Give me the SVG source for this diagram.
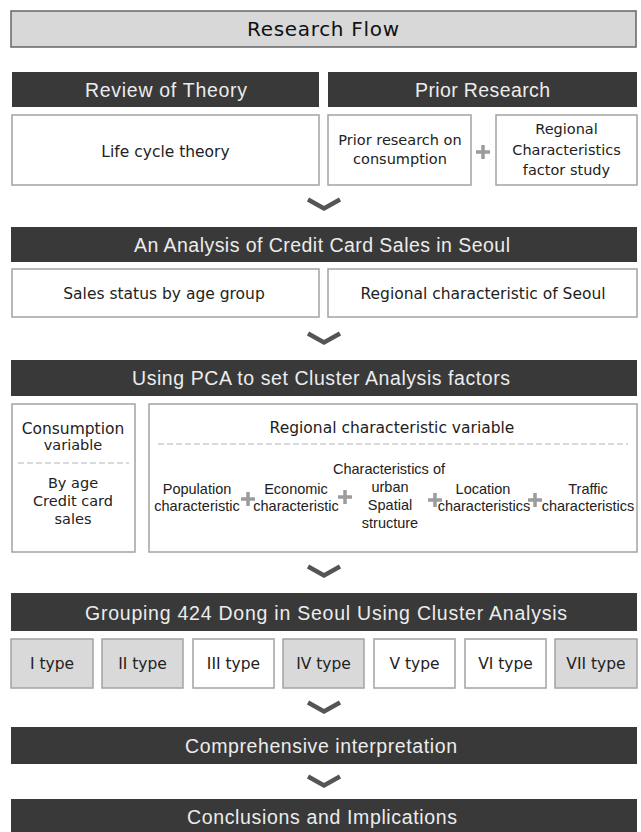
<svg xmlns="http://www.w3.org/2000/svg" width="641" height="832" viewBox="0 0 641 832">
<style>
.bg{fill:#ffffff}
.title{fill:#d8d8d8;stroke:#666;stroke-width:1.5}
.bar{fill:#393939}
.box{fill:#fff;stroke:#a3a3a3;stroke-width:1.5}
.gbox{fill:#d9d9d9;stroke:#a3a3a3;stroke-width:1.5}
.ht{font-family:"Liberation Sans",Arial,sans-serif;font-size:19.5px;fill:#ececec;text-anchor:middle}
.tt{font-family:"DejaVu Sans",sans-serif;font-size:20px;fill:#111;text-anchor:middle}
.bt{font-family:"DejaVu Sans",sans-serif;font-size:15.5px;fill:#222;text-anchor:middle}
.sm{font-family:"DejaVu Sans",sans-serif;font-size:14.5px;fill:#222;text-anchor:middle}
.st{font-family:"Liberation Sans",Arial,sans-serif;font-size:14.5px;fill:#222;text-anchor:middle}
.plus{stroke:#9c9c9c;stroke-width:3.5;fill:none}
.dash{stroke:#b3b3b3;stroke-width:1;stroke-dasharray:6 3;fill:none}
.chev{fill:none;stroke:#555;stroke-width:4.5}
</style>
<defs>
<path id="plus" class="plus" d="M-7,0H7M0,-7V7"/>
<polyline id="chev" class="chev" points="-16,-4.5 0,4.5 16,-4.5"/>
</defs>
<rect class="bg" x="0" y="0" width="641" height="832"/>

<g id="title">
<rect class="title" x="11" y="11" width="625" height="36"/>
<text class="tt" x="323" y="36" textLength="152">Research Flow</text>
</g>

<g id="review-header">
<rect class="bar" x="12" y="72" width="307" height="35"/>
<text class="ht" x="166" y="97" textLength="162">Review of Theory</text>
</g>
<g id="prior-header">
<rect class="bar" x="328" y="72" width="309" height="35"/>
<text class="ht" x="482.5" y="97" textLength="135">Prior Research</text>
</g>
<g id="life-cycle">
<rect class="box" x="12" y="115" width="307" height="70"/>
<text class="bt" x="165.5" y="157">Life cycle theory</text>
</g>
<g id="prior-consumption">
<rect class="box" x="328" y="115" width="143" height="70"/>
<text class="sm" x="400" y="145">Prior research on</text>
<text class="sm" x="400" y="164">consumption</text>
</g>
<use href="#plus" x="483" y="152"/>
<g id="regional-factor">
<rect class="box" x="496" y="115" width="141" height="70"/>
<text class="sm" x="566.5" y="134">Regional</text>
<text class="sm" x="566.5" y="155">Characteristics</text>
<text class="sm" x="566.5" y="175">factor study</text>
</g>

<g id="analysis-header">
<rect class="bar" x="11" y="227" width="626" height="35"/>
<text class="ht" x="322" y="252" textLength="376">An Analysis of Credit Card Sales in Seoul</text>
</g>
<g id="sales-status">
<rect class="box" x="12" y="269" width="307" height="48"/>
<text class="bt" x="164" y="299">Sales status by age group</text>
</g>
<g id="regional-seoul">
<rect class="box" x="328" y="269" width="309" height="48"/>
<text class="bt" x="483" y="299">Regional characteristic of Seoul</text>
</g>

<g id="pca-header">
<rect class="bar" x="11" y="360" width="626" height="36"/>
<text class="ht" x="321" y="385" textLength="378">Using PCA to set Cluster Analysis factors</text>
</g>
<g id="consumption-variable">
<rect class="box" x="12" y="404" width="123" height="148"/>
<text class="bt" x="73" y="434">Consumption</text>
<text class="sm" x="73" y="450">variable</text>
<line class="dash" x1="18" y1="463" x2="129" y2="463"/>
<text class="sm" x="73" y="488">By age</text>
<text class="sm" x="73" y="506">Credit card</text>
<text class="sm" x="73" y="524">sales</text>
</g>
<g id="regional-variable">
<rect class="box" x="149" y="404" width="488" height="148"/>
<text class="bt" x="392" y="433">Regional characteristic  variable</text>
<line class="dash" x1="158" y1="444" x2="628" y2="444"/>
<text class="st" x="197" y="494">Population</text>
<text class="st" x="197" y="511">characteristic</text>
<use href="#plus" x="248" y="499"/>
<text class="st" x="296" y="494">Economic</text>
<text class="st" x="296" y="511">characteristic</text>
<use href="#plus" x="345" y="497"/>
<text class="st" x="389" y="474">Characteristics of</text>
<text class="st" x="390" y="492">urban</text>
<text class="st" x="390" y="510">Spatial</text>
<text class="st" x="390" y="528">structure</text>
<use href="#plus" x="435" y="500"/>
<text class="st" x="483" y="494">Location</text>
<text class="st" x="484" y="511">characteristics</text>
<use href="#plus" x="535" y="500"/>
<text class="st" x="588" y="494">Traffic</text>
<text class="st" x="588" y="511">characteristics</text>
</g>

<g id="grouping-header">
<rect class="bar" x="11" y="593" width="626" height="38"/>
<text class="ht" x="326" y="620" textLength="482">Grouping 424 Dong in Seoul Using Cluster Analysis</text>
</g>
<g id="type1"><rect class="gbox" x="11" y="639" width="82" height="49"/><text class="bt" x="52" y="669">I type</text></g>
<g id="type2"><rect class="gbox" x="102" y="639" width="81" height="49"/><text class="bt" x="142.5" y="669">II type</text></g>
<g id="type3"><rect class="box" x="193" y="639" width="81" height="49"/><text class="bt" x="233.5" y="669">III type</text></g>
<g id="type4"><rect class="gbox" x="283" y="639" width="81" height="49"/><text class="bt" x="323.5" y="669">IV type</text></g>
<g id="type5"><rect class="box" x="374" y="639" width="81" height="49"/><text class="bt" x="414.5" y="669">V type</text></g>
<g id="type6"><rect class="box" x="465" y="639" width="81" height="49"/><text class="bt" x="505.5" y="669">VI type</text></g>
<g id="type7"><rect class="gbox" x="555" y="639" width="82" height="49"/><text class="bt" x="596" y="669">VII type</text></g>

<g id="interpretation">
<rect class="bar" x="11" y="727" width="626" height="37"/>
<text class="ht" x="321" y="753" textLength="272">Comprehensive interpretation</text>
</g>
<g id="conclusions">
<rect class="bar" x="11" y="799" width="626" height="36"/>
<text class="ht" x="322" y="824" textLength="270">Conclusions and Implications</text>
</g>

<g id="connectors">
<use href="#chev" x="324" y="204"/>
<use href="#chev" x="324" y="338"/>
<use href="#chev" x="324" y="571"/>
<use href="#chev" x="324" y="707"/>
<use href="#chev" x="324" y="781"/>
</g>
</svg>
